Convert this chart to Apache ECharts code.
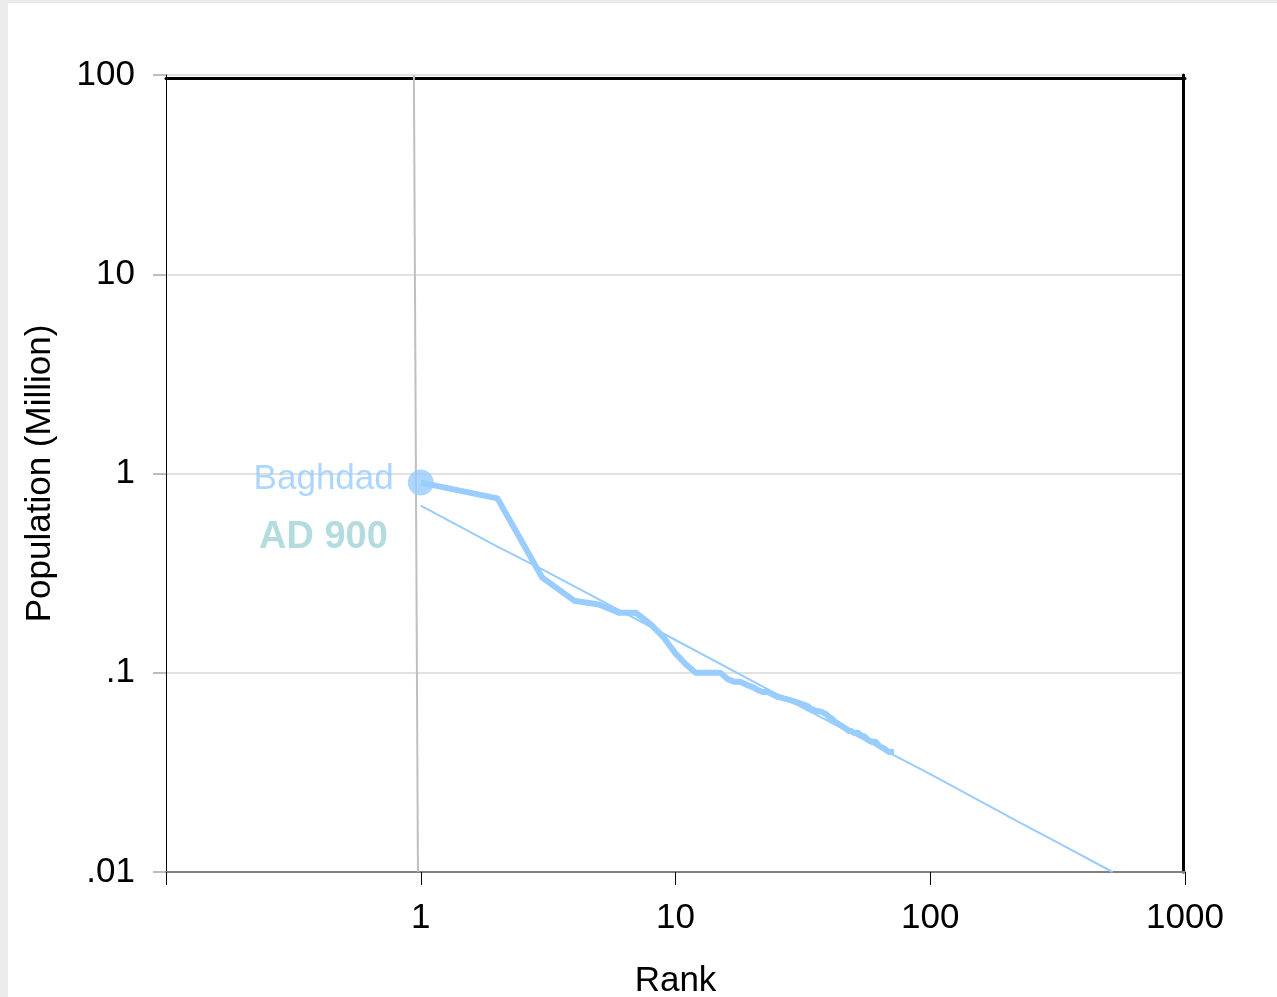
<!DOCTYPE html>
<html><head><meta charset="utf-8">
<script src="https://cdn.jsdelivr.net/npm/echarts@6/dist/echarts.min.js"></script>
<style>html,body{margin:0;padding:0;background:#fff;}#c{width:1277px;height:997px;}</style>
</head><body><div id="c"></div>
<script>
// Rank-size data (population in millions), AD 900
const ranks = [];
for (let i = 1; i <= 72; i++) ranks.push(i);
const population = [
  0.9, 0.75, 0.3, 0.23, 0.22, 0.2, 0.2, 0.175, 0.15, 0.125,
  0.11, 0.1, 0.1, 0.1, 0.1, 0.093, 0.09, 0.09, 0.087, 0.085,
  0.082, 0.08, 0.08, 0.078, 0.076, 0.075, 0.074, 0.073, 0.072, 0.071,
  0.07, 0.069, 0.068, 0.066, 0.065, 0.064, 0.064, 0.063, 0.062, 0.06,
  0.059, 0.057, 0.056, 0.055, 0.054, 0.053, 0.052, 0.051, 0.051, 0.05,
  0.05, 0.05, 0.049, 0.048, 0.048, 0.047, 0.046, 0.046, 0.045, 0.045,
  0.045, 0.044, 0.043, 0.043, 0.042, 0.042, 0.041, 0.041, 0.04, 0.04,
  0.04, 0.04
];
const trendRanks = [1, 2, 3, 10, 30, 100, 223, 318, 520];
const trendValues = [0.69, 0.43, 0.33, 0.146, 0.069, 0.031, 0.0178, 0.0140, 0.01];
const refLineX = [0.94, 0.975];
const refLineY = [100, 0.01];
const topCity = { name: 'Baghdad', era: 'AD 900', rank: 1, value: 0.9 };
const xTickLabels = ['', '1', '10', '100', '1000'];   // 0.1 .. 1000
const yTickLabels = ['.01', '.1', '1', '10', '100']; // 0.01 .. 100

const FONT = '"Liberation Sans", Arial, sans-serif';
const blue = '#99ccff';

function zipPairs(a, b) { return a.map((v, i) => [v, b[i]]); }

const chart = echarts.init(document.getElementById('c'), null, { renderer: 'canvas' });
chart.setOption({
  animation: false,
  backgroundColor: '#fff',
  grid: { left: 166, right: 92, top: 75, bottom: 125, containLabel: false, outerBoundsMode: 'none' },
  xAxis: [{
    type: 'log', logBase: 10, min: 0.1, max: 1000,
    name: 'Rank', nameLocation: 'middle', nameGap: 92,
    nameTextStyle: { fontFamily: FONT, fontSize: 35, color: '#000' },
    axisLine: { show: true, onZero: false, lineStyle: { color: '#808080', width: 2 } },
    axisTick: { show: true, length: 13, lineStyle: { color: '#000', width: 1 } },
    axisLabel: {
      fontFamily: FONT, fontSize: 35, color: '#000', margin: 29,
      formatter: v => xTickLabels[Math.round(Math.log10(v)) + 1]
    },
    splitLine: { show: false }, minorTick: { show: false }
  }, {
    type: 'log', logBase: 10, min: 0.1, max: 1000, position: 'top', offset: -3,
    axisLine: { show: true, lineStyle: { color: '#000', width: 3 } },
    axisTick: { show: false }, axisLabel: { show: false }, splitLine: { show: false }
  }],
  yAxis: [{
    type: 'log', logBase: 10, min: 0.01, max: 100,
    name: 'Population (Million)', nameLocation: 'middle', nameGap: 108, nameRotate: 90,
    nameTextStyle: { fontFamily: FONT, fontSize: 35, color: '#000' },
    axisLine: { show: true, onZero: false, lineStyle: { color: '#000', width: 1 } },
    axisTick: { show: true, length: 13, lineStyle: { color: '#a6a6a6', width: 1.5 } },
    axisLabel: {
      fontFamily: FONT, fontSize: 35, color: '#000', margin: 31,
      formatter: v => yTickLabels[Math.round(Math.log10(v)) + 2]
    },
    splitLine: { show: true, lineStyle: { color: '#d9d9d9', width: 1.5 } },
    minorTick: { show: false }
  }, {
    type: 'log', logBase: 10, min: 0.01, max: 100, position: 'right', offset: -2,
    axisLine: { show: true, lineStyle: { color: '#000', width: 3 } },
    axisTick: { show: false }, axisLabel: { show: false }, splitLine: { show: false }
  }],
  series: [
    {
      type: 'line', data: zipPairs(refLineX, refLineY), showSymbol: false, symbol: 'none',
      lineStyle: { color: '#bfbfbf', width: 2 }, z: 1, silent: true
    },
    {
      type: 'line', data: zipPairs(trendRanks, trendValues), symbol: 'none',
      lineStyle: { color: blue, width: 2 }, z: 2
    },
    {
      type: 'line', data: zipPairs(ranks, population), symbol: 'none',
      lineStyle: { color: blue, width: 6, join: 'round' }, z: 3
    },
    {
      type: 'scatter', data: [[topCity.rank, topCity.value]], symbolSize: 26,
      itemStyle: { color: blue }, z: 4,
      label: {
        show: true, position: 'left', distance: 14, formatter: topCity.name,
        fontFamily: FONT, fontSize: 35, color: blue, offset: [0, -3]
      }
    }
  ],
  graphic: [
    { type: 'rect', shape: { x: 0, y: 0, width: 8, height: 997 }, style: { fill: '#ebebeb' }, silent: true },
    { type: 'rect', shape: { x: 0, y: 0, width: 1277, height: 3 }, style: { fill: '#ebebeb' }, silent: true },
    {
      type: 'text', left: 259, top: 519,
      style: { text: topCity.era, font: 'bold 38px ' + FONT, fill: '#b4dcdf' }
    }
  ]
});
</script></body></html>
